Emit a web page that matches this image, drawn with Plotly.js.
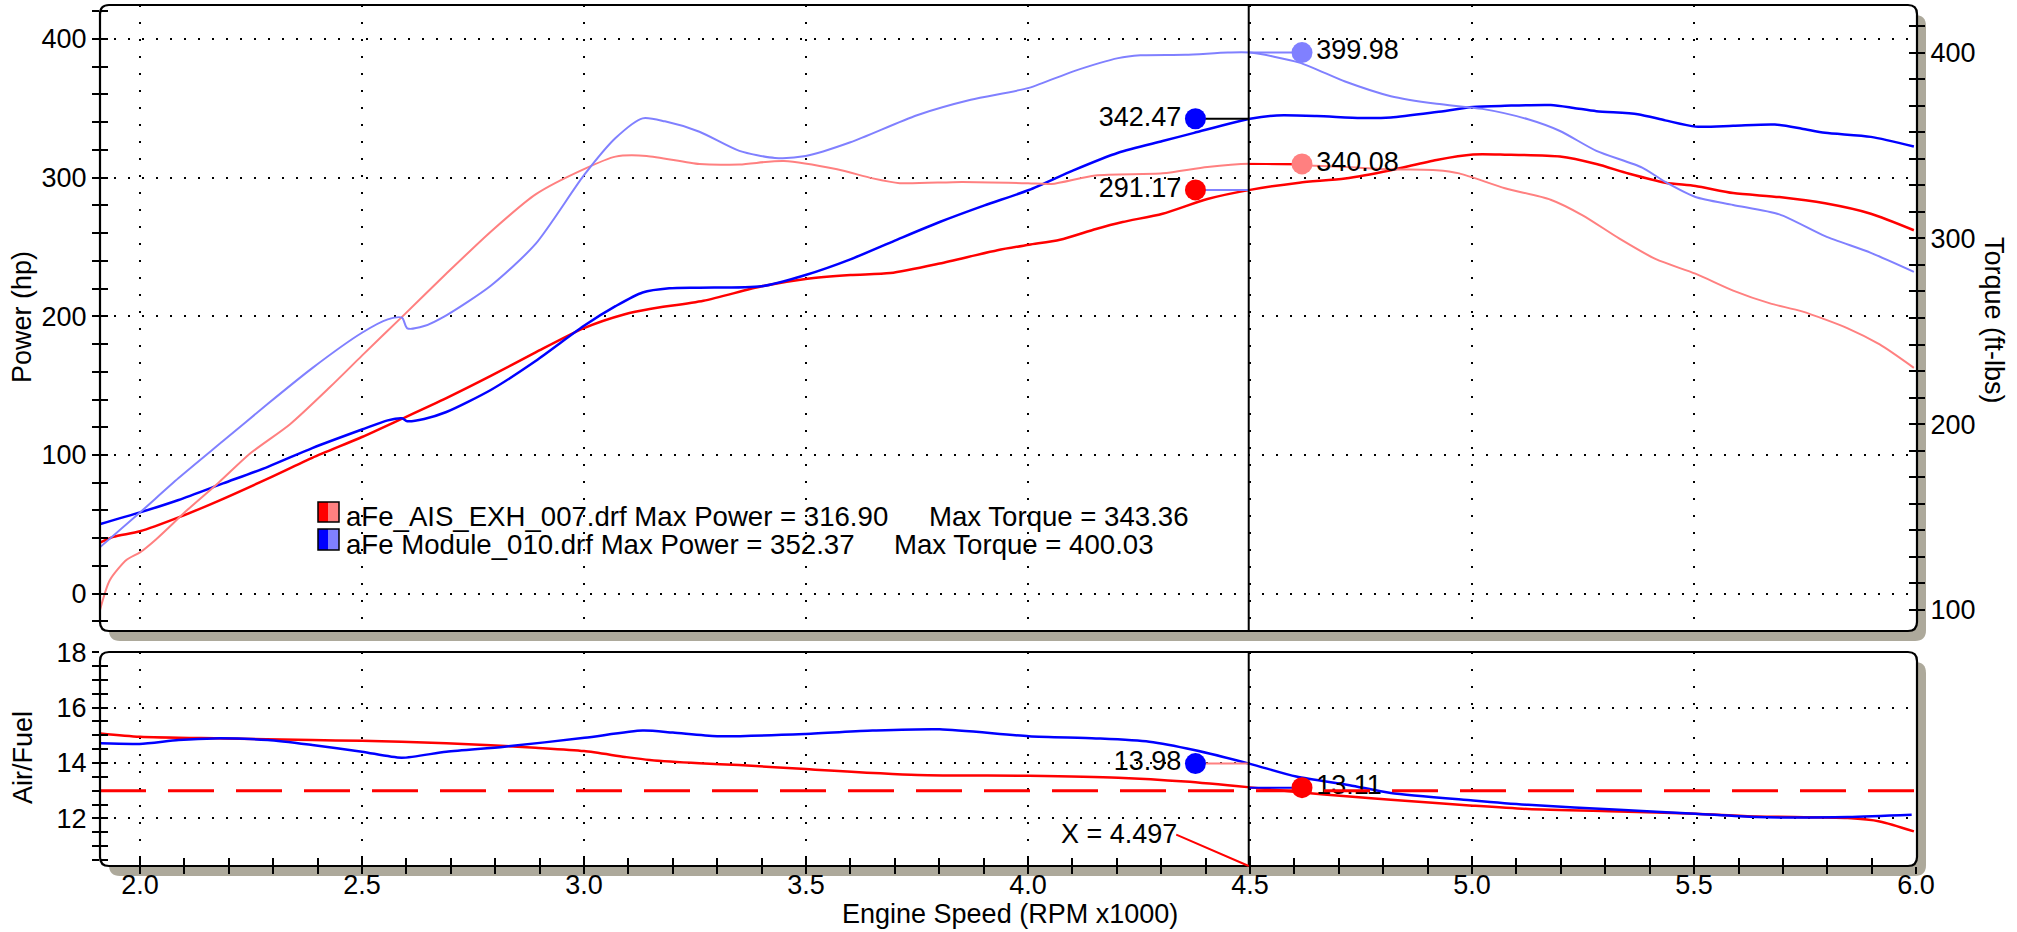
<!DOCTYPE html>
<html>
<head>
<meta charset="utf-8">
<script src="https://cdn.plot.ly/plotly-3.0.1.min.js"></script>
<style>
html, body { margin: 0; padding: 0; background: #ffffff; }
#chart { width: 2017px; height: 932px; }
</style>
</head>
<body>
<div id="chart"></div>
<script>
// ---------------- DATA ----------------
// Run 1: aFe_AIS_EXH_007.drf  (red = power, pink = torque, red = A/F)
const rpmPower1 = [1.911, 1.94, 2.0, 2.087, 2.177, 2.288, 2.388, 2.5, 2.589, 2.69, 2.79, 2.891, 3.0, 3.092, 3.148, 3.269, 3.4, 3.499, 3.6, 3.69, 3.801, 3.931, 4.002, 4.072, 4.153, 4.213, 4.303, 4.404, 4.5, 4.611, 4.714, 4.817, 4.92, 5.002, 5.074, 5.198, 5.28, 5.352, 5.435, 5.503, 5.588, 5.692, 5.795, 5.898, 5.995];
const power1 = [37, 41, 45, 55, 67, 83, 98, 113, 126, 141, 157, 174, 191.5, 201.5, 205.3, 211.2, 221.7, 227, 229.8, 231.2, 238.1, 247.7, 251.6, 255.2, 263, 268, 274, 284.6, 291.2, 296.4, 299.4, 305.4, 312.8, 316.7, 316.6, 315.2, 309.8, 303, 296.4, 294, 288.9, 286, 281.5, 274, 262.1];

const rpmTorque1 = [1.91, 1.932, 1.97, 2.0, 2.036, 2.107, 2.177, 2.248, 2.338, 2.428, 2.5, 2.589, 2.689, 2.79, 2.891, 3.0, 3.071, 3.141, 3.26, 3.35, 3.45, 3.57, 3.65, 3.711, 3.851, 4.0, 4.053, 4.152, 4.303, 4.404, 4.5, 4.611, 4.714, 4.817, 4.92, 4.971, 5.074, 5.177, 5.249, 5.331, 5.414, 5.503, 5.588, 5.671, 5.743, 5.846, 5.918, 5.995];
const torque1 = [100, 116, 127, 131, 138, 153.9, 168.5, 184.2, 200, 220, 236.9, 257.5, 280.8, 303.6, 323.7, 337.3, 344, 344.4, 340, 339.8, 341.7, 337.2, 332.3, 329.7, 330.4, 329.7, 329.3, 333.9, 335, 338.4, 340.1, 339.4, 338.4, 337.2, 336.7, 335, 327, 320.8, 312.4, 300, 288.8, 281, 271.9, 265, 260.7, 251.6, 242.9, 230.3];

const rpmAfr1 = [1.911, 2.0, 2.187, 2.388, 2.5, 2.589, 2.69, 2.79, 2.891, 3.0, 3.092, 3.148, 3.26, 3.349, 3.499, 3.751, 4.002, 4.203, 4.354, 4.5, 4.611, 4.724, 4.817, 5.002, 5.126, 5.331, 5.503, 5.64, 5.846, 5.918, 5.995];
const afr1 = [15.07, 14.95, 14.89, 14.83, 14.8, 14.77, 14.71, 14.64, 14.55, 14.43, 14.22, 14.11, 13.99, 13.93, 13.78, 13.57, 13.54, 13.47, 13.33, 13.12, 12.94, 12.79, 12.67, 12.46, 12.34, 12.25, 12.17, 12.07, 12.01, 11.89, 11.53];

// Run 2: aFe Module_010.drf  (blue = power, light blue = torque, blue = A/F)
const rpmPower2 = [1.911, 2.0, 2.087, 2.187, 2.288, 2.388, 2.5, 2.558, 2.59, 2.602, 2.64, 2.69, 2.79, 2.891, 3.0, 3.071, 3.132, 3.192, 3.26, 3.4, 3.499, 3.6, 3.7, 3.801, 3.902, 4.002, 4.102, 4.203, 4.303, 4.374, 4.5, 4.56, 4.65, 4.75, 4.817, 4.92, 5.002, 5.074, 5.177, 5.229, 5.28, 5.373, 5.435, 5.503, 5.588, 5.682, 5.743, 5.795, 5.898, 5.995];
const power2 = [50.3, 58.6, 67.6, 79.5, 91.5, 105, 118.4, 125, 126.5, 124.4, 126, 131, 146.9, 167.8, 193.2, 207.3, 217.2, 220.2, 220.7, 221.7, 229.8, 241.1, 254.6, 268, 280, 291.1, 305.3, 318, 326.4, 332.3, 342.5, 344.9, 344.5, 343, 343.4, 347.3, 350.9, 351.8, 352.4, 350.3, 347.9, 345.8, 341.3, 336.8, 337.4, 338.3, 335.3, 332.3, 329.4, 322.5];

const rpmTorque2 = [1.911, 2.0, 2.087, 2.187, 2.288, 2.388, 2.5, 2.558, 2.59, 2.602, 2.64, 2.69, 2.79, 2.891, 3.0, 3.071, 3.132, 3.182, 3.26, 3.35, 3.43, 3.499, 3.6, 3.75, 3.871, 4.002, 4.102, 4.203, 4.253, 4.354, 4.45, 4.5, 4.611, 4.714, 4.817, 4.92, 5.023, 5.126, 5.198, 5.28, 5.383, 5.435, 5.503, 5.588, 5.692, 5.795, 5.898, 5.995];
const torque2 = [134, 152.5, 171, 190.9, 211, 230.2, 249.2, 256.4, 257.3, 251.6, 252.8, 258.6, 274.5, 297, 334, 354, 364.6, 363, 357.4, 347.1, 343.3, 344.3, 351.7, 366.3, 374.6, 381, 389.9, 397, 398.5, 398.8, 400, 399.98, 394.6, 384.4, 376.5, 372.4, 369.7, 364.1, 357.8, 347.1, 338.1, 330.4, 322.3, 318, 312.9, 301.2, 292.2, 282];

const rpmAfr2 = [1.911, 1.999, 2.087, 2.167, 2.288, 2.388, 2.5, 2.589, 2.69, 2.821, 3.001, 3.132, 3.2, 3.3, 3.499, 3.65, 3.801, 4.002, 4.153, 4.273, 4.374, 4.5, 4.604, 4.724, 4.817, 5.002, 5.126, 5.331, 5.503, 5.64, 5.846, 5.99];
const afr2 = [14.71, 14.69, 14.83, 14.89, 14.83, 14.65, 14.41, 14.19, 14.41, 14.59, 14.91, 15.17, 15.1, 14.97, 15.05, 15.17, 15.22, 14.97, 14.89, 14.77, 14.47, 13.97, 13.51, 13.2, 12.92, 12.65, 12.49, 12.31, 12.17, 12.05, 12.05, 12.13];

// Cursor readout
const cursorRpm = 4.497;
const cursorTorque = [399.98, 340.08];   // run 2, run 1
const cursorPower = [342.47, 291.17];    // run 2, run 1
const cursorAfr = [13.98, 13.11];        // run 2, run 1
const targetAfr = 13.0;

// Legend texts
const runNames = ['aFe_AIS_EXH_007.drf', 'aFe Module_010.drf'];
const maxPower = ['316.90', '352.37'];
const maxTorque = ['343.36', '400.03'];

// ---------------- LAYOUT HELPERS ----------------
const W = 2017, H = 932;
const px = v => v / W;
const py = v => 1 - v / H;
const FONT = 'Liberation Sans, Arial, Helvetica, sans-serif';
const RED = '#FF0000', PINK = '#FF8080', BLUE = '#0000FF', LBLUE = '#8080FF';
const SHADOW = '#ADA99B';
const readLeft = 4.377, readRight = 4.617;

function rr(x0, y0, x1, y1, r) {
  const P = (x, y) => px(x).toFixed(6) + ',' + py(y).toFixed(6);
  return 'M' + P(x0 + r, y0) + ' L' + P(x1 - r, y0) + ' Q' + P(x1, y0) + ' ' + P(x1, y0 + r) +
    ' L' + P(x1, y1 - r) + ' Q' + P(x1, y1) + ' ' + P(x1 - r, y1) +
    ' L' + P(x0 + r, y1) + ' Q' + P(x0, y1) + ' ' + P(x0, y1 - r) +
    ' L' + P(x0, y0 + r) + ' Q' + P(x0, y0) + ' ' + P(x0 + r, y0) + ' Z';
}

const TOP = [100, 5, 1917, 631];
const BOT = [100, 652, 1917, 866];

const xRange = [1.91, 6.002];
const pRange = [-26.9, 424.5];
const tRange = [88.7, 425.6];
const aRange = [10.28, 18.01];

// ---------------- TRACES ----------------
const sm = 0.7;
function curve(x, y, xa, ya, color, width) {
  return { type: 'scatter', mode: 'lines', x: x, y: y, xaxis: xa, yaxis: ya,
    line: { color: color, width: width, shape: 'spline', smoothing: sm }, hoverinfo: 'skip' };
}
function connector(xa, ya, xEnd, val, color) {
  return { type: 'scatter', mode: 'lines', x: [cursorRpm, xEnd], y: [val, val], xaxis: xa, yaxis: ya,
    line: { color: color, width: 2 }, hoverinfo: 'skip' };
}
function dot(xa, ya, xPos, val, color, side) {
  return { type: 'scatter', mode: 'markers+text', x: [xPos], y: [val], xaxis: xa, yaxis: ya,
    text: [val.toFixed(2)], textposition: side === 'left' ? 'middle left' : 'middle right',
    textfont: { family: FONT, size: 27, color: '#000' },
    marker: { size: 21, color: color, line: { width: 0 } }, cliponaxis: false, hoverinfo: 'skip' };
}
function empty(xa, ya) { return { type: 'scatter', mode: 'lines', x: [], y: [], xaxis: xa, yaxis: ya, hoverinfo: 'skip' }; }

const traces = [
  curve(rpmTorque1, torque1, 'x', 'y2', PINK, 2),
  curve(rpmTorque2, torque2, 'x', 'y2', LBLUE, 2),
  curve(rpmPower1, power1, 'x', 'y', RED, 2.5),
  curve(rpmPower2, power2, 'x', 'y', BLUE, 2.5),
  curve(rpmAfr1, afr1, 'x2', 'y3', RED, 2.5),
  curve(rpmAfr2, afr2, 'x2', 'y3', BLUE, 2.5),
  connector('x', 'y2', readRight, cursorTorque[0], LBLUE),
  connector('x', 'y2', readRight, cursorTorque[1], RED),
  connector('x', 'y', readLeft, cursorPower[0], '#000000'),
  connector('x', 'y', readLeft, cursorPower[1], LBLUE),
  connector('x2', 'y3', readLeft, cursorAfr[0], PINK),
  connector('x2', 'y3', readRight, cursorAfr[1], BLUE),
  dot('x', 'y2', readRight, cursorTorque[0], LBLUE, 'right'),
  dot('x', 'y2', readRight, cursorTorque[1], PINK, 'right'),
  dot('x', 'y', readLeft, cursorPower[0], BLUE, 'left'),
  dot('x', 'y', readLeft, cursorPower[1], RED, 'left'),
  dot('x2', 'y3', readLeft, cursorAfr[0], BLUE, 'left'),
  dot('x2', 'y3', readRight, cursorAfr[1], RED, 'right'),
  empty('x', 'y4'), empty('x', 'y5'), empty('x2', 'y6'), empty('x3', 'y3'), empty('x4', 'y3')
];

// ---------------- AXES ----------------
const tickfont = { family: FONT, size: 27, color: '#000' };
const tk = { tickcolor: '#000', tickwidth: 2 };
const base = { zeroline: false, showline: false, fixedrange: true };

const layout = {
  width: W, height: H,
  margin: { l: 0, r: 0, t: 0, b: 0, pad: 0 },
  paper_bgcolor: '#ffffff', plot_bgcolor: 'rgba(0,0,0,0)',
  showlegend: false,
  font: { family: FONT, size: 27, color: '#000' },
  xaxis: Object.assign({}, base, { domain: [px(TOP[0]), px(TOP[2])], anchor: 'y', range: xRange,
    ticks: '', showticklabels: false, dtick: 0.5, tick0: 2,
    showgrid: true, gridcolor: '#000', gridwidth: 2, griddash: '2px,15px' }),
  yaxis: Object.assign({}, base, tk, { domain: [py(TOP[3]), py(TOP[1])], anchor: 'x', range: pRange,
    dtick: 100, tick0: 0, ticks: 'outside', ticklen: 7, tickfont: tickfont,
    minor: Object.assign({ dtick: 20, tick0: 0, ticks: 'outside', ticklen: 7, showgrid: false }, tk),
    showgrid: true, gridcolor: '#000', gridwidth: 2, griddash: '2px,12px' }),
  yaxis4: Object.assign({}, base, tk, { overlaying: 'y', anchor: 'x', side: 'left', range: pRange,
    dtick: 20, tick0: 0, ticks: 'inside', ticklen: 8, showticklabels: false, showgrid: false }),
  yaxis2: Object.assign({}, base, tk, { overlaying: 'y', anchor: 'x', side: 'right', range: tRange,
    dtick: 100, tick0: 100, ticks: 'outside', ticklen: 7, tickfont: tickfont,
    minor: Object.assign({ dtick: 100 / 7, tick0: 100, ticks: 'outside', ticklen: 7, showgrid: false }, tk),
    showgrid: false }),
  yaxis5: Object.assign({}, base, tk, { overlaying: 'y', anchor: 'x', side: 'right', range: tRange,
    dtick: 100 / 7, tick0: 100, ticks: 'inside', ticklen: 8, showticklabels: false, showgrid: false }),
  // bottom x axis: labels + grid only (no ticks, so labels sit close to the axis)
  xaxis2: Object.assign({}, base, tk, { domain: [px(BOT[0]), px(BOT[2])], anchor: 'y3', range: xRange,
    dtick: 0.5, tick0: 2, tickformat: '.1f', ticks: '', tickfont: tickfont,
    showgrid: true, gridcolor: '#000', gridwidth: 2, griddash: '2px,15px' }),
  // outside tick marks
  xaxis4: Object.assign({}, base, tk, { overlaying: 'x2', anchor: 'y3', side: 'bottom', range: xRange,
    dtick: 0.1, tick0: 2, ticks: 'outside', ticklen: 7, showticklabels: false, showgrid: false }),
  // inside tick marks
  xaxis3: Object.assign({}, base, tk, { overlaying: 'x2', anchor: 'y3', side: 'bottom', range: xRange,
    dtick: 0.1, tick0: 2, ticks: 'inside', ticklen: 8, showticklabels: false, showgrid: false }),
  yaxis3: Object.assign({}, base, tk, { domain: [py(BOT[3]), py(BOT[1])], anchor: 'x2', range: aRange,
    dtick: 2, tick0: 0, ticks: 'outside', ticklen: 7, tickfont: tickfont,
    minor: Object.assign({ dtick: 0.5, tick0: 0, ticks: 'outside', ticklen: 7, showgrid: false }, tk),
    showgrid: true, gridcolor: '#000', gridwidth: 2, griddash: '2px,12px' }),
  yaxis6: Object.assign({}, base, tk, { overlaying: 'y3', anchor: 'x2', side: 'left', range: aRange,
    dtick: 0.5, tick0: 0, ticks: 'inside', ticklen: 8, showticklabels: false, showgrid: false }),
  shapes: [],
  annotations: []
};

// Panel shadows, backgrounds and rounded borders
[TOP, BOT].forEach(b => {
  layout.shapes.push({ type: 'path', xref: 'paper', yref: 'paper', layer: 'below',
    path: rr(b[0] + 9, b[1] + 10, b[2] + 9, b[3] + 10, 11), fillcolor: SHADOW, line: { width: 0 } });
  layout.shapes.push({ type: 'path', xref: 'paper', yref: 'paper', layer: 'below',
    path: rr(b[0], b[1], b[2], b[3], 9), fillcolor: '#ffffff', line: { width: 0 } });
});
// reference A/F line
layout.shapes.push({ type: 'line', xref: 'x2 domain', yref: 'y3', x0: 0, x1: 1, y0: targetAfr, y1: targetAfr,
  line: { color: RED, width: 3, dash: '46px,22px' }, layer: 'above' });
// cursor
layout.shapes.push({ type: 'line', xref: 'x', yref: 'y domain', x0: cursorRpm, x1: cursorRpm, y0: 0, y1: 1,
  line: { color: '#000', width: 2 }, layer: 'above' });
layout.shapes.push({ type: 'line', xref: 'x2', yref: 'y3 domain', x0: cursorRpm, x1: cursorRpm, y0: 0, y1: 1,
  line: { color: '#000', width: 2 }, layer: 'above' });
[TOP, BOT].forEach(b => {
  layout.shapes.push({ type: 'path', xref: 'paper', yref: 'paper', layer: 'above',
    path: rr(b[0], b[1], b[2], b[3], 9), fillcolor: 'rgba(0,0,0,0)', line: { color: '#000', width: 2.2 } });
});
// legend swatches
const swatch = [[RED, PINK, 502, 522], [BLUE, LBLUE, 529, 550]];
swatch.forEach(s => {
  layout.shapes.push({ type: 'rect', xref: 'paper', yref: 'paper', x0: px(318), x1: px(328.5), y0: py(s[3]), y1: py(s[2]),
    fillcolor: s[0], line: { width: 0 } });
  layout.shapes.push({ type: 'rect', xref: 'paper', yref: 'paper', x0: px(328.5), x1: px(339), y0: py(s[3]), y1: py(s[2]),
    fillcolor: s[1], line: { width: 0 } });
  layout.shapes.push({ type: 'rect', xref: 'paper', yref: 'paper', x0: px(318), x1: px(339), y0: py(s[3]), y1: py(s[2]),
    fillcolor: 'rgba(0,0,0,0)', line: { color: '#000', width: 1.5 } });
});

function note(x, y, text, opts, size) {
  return Object.assign({ xref: 'paper', yref: 'paper', x: px(x), y: py(y), text: text, showarrow: false,
    font: { family: FONT, size: size || 27, color: '#000' }, xanchor: 'center', yanchor: 'middle' }, opts || {});
}
layout.annotations.push(note(22, 317, 'Power (hp)', { textangle: -90 }));
layout.annotations.push(note(1994, 320, 'Torque (ft-lbs)', { textangle: 90 }));
layout.annotations.push(note(23, 758, 'Air/Fuel', { textangle: -90 }));
layout.annotations.push(note(1010, 914, 'Engine Speed (RPM x1000)'));
layout.annotations.push(note(344, 516, runNames[0] + ' Max Power = ' + maxPower[0], { xanchor: 'left' }, 27.6));
layout.annotations.push(note(927, 516, 'Max Torque = ' + maxTorque[0], { xanchor: 'left' }, 27.6));
layout.annotations.push(note(344, 544, runNames[1] + ' Max Power = ' + maxPower[1], { xanchor: 'left' }, 27.6));
layout.annotations.push(note(892, 544, 'Max Torque = ' + maxTorque[1], { xanchor: 'left' }, 27.6));
layout.annotations.push(note(1119, 834, 'X = ' + cursorRpm.toFixed(3)));
layout.annotations.push({ xref: 'x2', yref: 'y3 domain', x: cursorRpm, y: 0, ax: -74, ay: -32, axref: 'pixel', ayref: 'pixel',
  text: '', showarrow: true, arrowhead: 0, arrowwidth: 2, arrowcolor: RED, standoff: 0, startstandoff: 0 });

Plotly.newPlot('chart', traces, layout, { displayModeBar: false, staticPlot: true });
</script>
</body>
</html>
